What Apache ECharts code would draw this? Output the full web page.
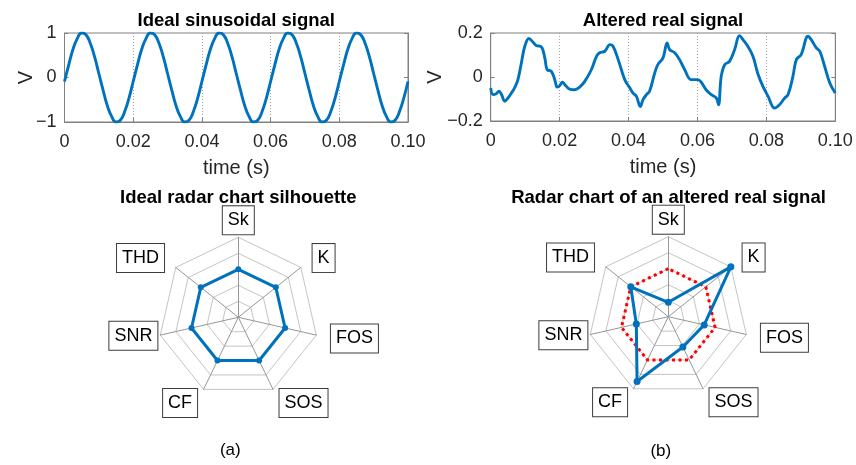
<!DOCTYPE html>
<html>
<head>
<meta charset="utf-8">
<title>Sinusoidal and altered signals with radar silhouettes</title>
<script src="https://cdn.jsdelivr.net/npm/echarts@6/dist/echarts.min.js"></script>
<style>
  html, body { margin: 0; padding: 0; background: #fff; }
  #chart { width: 856px; height: 465px; }
</style>
</head>
<body>
<div id="chart"></div>
<script>
// ---- Ideal 50 Hz sinusoid, sampled every 1.25 ms (V) ----
const sineStep = 0.00125;
const sineValues = [
  -0.09, 0.29, 0.64, 0.88, 1.00, 0.96, 0.77, 0.47, 0.09, -0.29, -0.64, -0.88, -1.00, -0.96, -0.77, -0.47,
  -0.09, 0.29, 0.64, 0.88, 1.00, 0.96, 0.77, 0.47, 0.09, -0.29, -0.64, -0.88, -1.00, -0.96, -0.77, -0.47,
  -0.09, 0.29, 0.64, 0.88, 1.00, 0.96, 0.77, 0.47, 0.09, -0.29, -0.64, -0.88, -1.00, -0.96, -0.77, -0.47,
  -0.09, 0.29, 0.64, 0.88, 1.00, 0.96, 0.77, 0.47, 0.09, -0.29, -0.64, -0.88, -1.00, -0.96, -0.77, -0.47,
  -0.09, 0.29, 0.64, 0.88, 1.00, 0.96, 0.77, 0.47, 0.09, -0.29, -0.64, -0.88, -1.00, -0.96, -0.77, -0.47,
  -0.09
];

// ---- Altered real signal: time (s) and voltage (V) ----
const realTime = [
  0, 0.0007, 0.0016, 0.0024, 0.0031, 0.0041, 0.0050, 0.0060, 0.0070, 0.0079,
  0.0089, 0.0099, 0.0111, 0.0123, 0.0132, 0.0147, 0.0157, 0.0164, 0.0176, 0.0186,
  0.0193, 0.0200, 0.0208, 0.0217, 0.0229, 0.0244, 0.0258, 0.0273, 0.0292, 0.0307,
  0.0316, 0.0331, 0.0346, 0.0355, 0.0370, 0.0389, 0.0404, 0.0413, 0.0423, 0.0434,
  0.0442, 0.0452, 0.0461, 0.0476, 0.0485, 0.0500, 0.0512, 0.0519, 0.0534, 0.0548,
  0.0563, 0.0582, 0.0601, 0.0611, 0.0625, 0.0640, 0.0655, 0.0661, 0.0669, 0.0679,
  0.0693, 0.0708, 0.0722, 0.0732, 0.0746, 0.0761, 0.0776, 0.0790, 0.0805, 0.0824,
  0.0838, 0.0853, 0.0863, 0.0877, 0.0887, 0.0901, 0.0921, 0.0930, 0.0945, 0.0955,
  0.0969, 0.0984, 0.1000
];
const realValues = [
  -0.050, -0.080, -0.076, -0.065, -0.078, -0.110, -0.096, -0.073, -0.047, -0.012,
  0.064, 0.140, 0.175, 0.158, 0.143, 0.137, 0.087, 0.033, 0.026, -0.012,
  -0.046, -0.040, -0.024, -0.038, -0.055, -0.058, -0.046, -0.020, 0.033, 0.094,
  0.110, 0.117, 0.147, 0.140, 0.079, -0.012, -0.050, -0.073, -0.088, -0.134,
  -0.103, -0.080, -0.065, 0.018, 0.056, 0.087, 0.155, 0.125, 0.110, 0.079,
  0.033, -0.012, -0.012, -0.024, -0.058, -0.080, -0.096, -0.126, 0.003, 0.056,
  0.071, 0.125, 0.188, 0.170, 0.140, 0.094, 0.011, -0.043, -0.088, -0.141,
  -0.126, -0.096, -0.080, 0.003, 0.079, 0.102, 0.185, 0.170, 0.132, 0.117,
  0.049, -0.027, -0.073
];

// ---- Axis ticks ----
const timeTicks = [0, 0.02, 0.04, 0.06, 0.08, 0.10];
const sineTicks = [-1, 0, 1];
const realTicks = [-0.2, 0, 0.2];

// ---- Radar features, listed clockwise from the top ----
const features = ['Sk', 'K', 'FOS', 'SOS', 'CF', 'SNR', 'THD'];
const idealProfile = [0.6, 0.6, 0.6, 0.6, 0.6, 0.6, 0.6];
const alteredProfile = [0.18, 1.0, 0.46, 0.42, 0.9, 0.41, 0.6];
// feature names whose boxes sit right against the outer ring
const closeNames = ['Sk', 'SNR'];

// ---------------------------------------------------------------
const BLUE = '#0072BD';
const TEXT = '#262626';
const BOX = '#808080';
const FONT = '"Liberation Sans", Arial, Helvetica, sans-serif';

const sineData = sineValues.map((v, i) => [i * sineStep, v]);
const realData = realTime.map((t, i) => [t, realValues[i]]);

// ECharts places radar indicators counter-clockwise
const ccw = arr => [arr[0]].concat(arr.slice(1).reverse());

function fmtTime(v) { return v === 0 ? '0' : v.toFixed(2); }
function fmtSigned(v) {
  if (Math.abs(v) < 1e-9) return '0';
  const s = Number.isInteger(v) ? String(Math.abs(v)) : Math.abs(v).toFixed(1);
  return (v < 0 ? '\u2212' : '') + s;
}

function xAxisFor(gridIndex) {
  return {
    type: 'value', gridIndex,
    min: timeTicks[0], max: timeTicks[timeTicks.length - 1], interval: timeTicks[1] - timeTicks[0],
    name: 'time (s)', nameLocation: 'middle', nameGap: 36, nameMoveOverlap: false,
    nameTextStyle: { fontSize: 20, color: TEXT, fontFamily: FONT },
    axisLine: { show: true, onZero: false, lineStyle: { color: BOX, width: 1 } },
    axisTick: { show: true, inside: true, length: 4, lineStyle: { color: BOX } },
    axisLabel: { margin: 11, fontSize: 18, color: TEXT, fontFamily: FONT, formatter: fmtTime, hideOverlap: false },
    splitLine: { show: true, lineStyle: { color: '#8c8c8c', width: 0.8, type: [1, 2] } }
  };
}

function yAxisFor(gridIndex, ticks, nameGap) {
  return {
    type: 'value', gridIndex,
    min: ticks[0], max: ticks[ticks.length - 1], interval: ticks[1] - ticks[0],
    name: 'V', nameLocation: 'middle', nameGap, nameMoveOverlap: false,
    nameTextStyle: { fontSize: 20, color: TEXT, fontFamily: FONT },
    axisLine: { show: true, onZero: false, lineStyle: { color: BOX, width: 1 } },
    axisTick: { show: true, inside: true, length: 4, lineStyle: { color: BOX } },
    axisLabel: { margin: 8, fontSize: 18, color: TEXT, fontFamily: FONT, formatter: fmtSigned, showMinLabel: true, showMaxLabel: true },
    splitLine: { show: false }
  };
}

function yRightFor(gridIndex, ticks) {
  return {
    type: 'value', gridIndex, position: 'right',
    min: ticks[0], max: ticks[ticks.length - 1], interval: ticks[1] - ticks[0],
    axisLine: { show: true, onZero: false, lineStyle: { color: BOX, width: 1 } },
    axisTick: { show: true, inside: true, length: 4, lineStyle: { color: BOX } },
    axisLabel: { show: false },
    splitLine: { show: false }
  };
}

const nameBox = {
  color: '#000', fontSize: 18, fontFamily: FONT,
  borderColor: '#3c3c3c', borderWidth: 1, padding: [5, 5, 5, 5], backgroundColor: '#fff'
};

function radarPair(center) {
  const names = ccw(features);
  const main = {
    center, radius: 80, startAngle: 90, shape: 'polygon', splitNumber: 5,
    indicator: names.map(n => ({ name: closeNames.includes(n) ? '' : n, min: 0, max: 1 })),
    nameGap: 15,
    axisName: nameBox,
    splitLine: { lineStyle: { color: '#c4c4c4', width: 1 } },
    splitArea: { show: false },
    axisLine: { lineStyle: { color: '#979797', width: 1 } },
    axisTick: { show: false },
    axisLabel: { show: false }
  };
  const close = {
    center, radius: 80, startAngle: 90, shape: 'polygon', splitNumber: 5,
    indicator: names.map(n => ({ name: closeNames.includes(n) ? n : '', min: 0, max: 1 })),
    nameGap: 3,
    axisName: nameBox,
    splitLine: { show: false },
    splitArea: { show: false },
    axisLine: { show: false },
    axisTick: { show: false },
    axisLabel: { show: false }
  };
  return [main, close];
}

const titleStyle = { fontSize: 18.5, fontWeight: 'bold', color: '#000', fontFamily: FONT };
const captionStyle = { fontSize: 17, fontWeight: 'normal', color: '#000', fontFamily: FONT };

const option = {
  animation: false,
  backgroundColor: '#fff',
  title: [
    { text: 'Ideal sinusoidal signal', left: 236.3, top: 11.5, textAlign: 'center', padding: 0, textStyle: titleStyle },
    { text: 'Altered real signal', left: 663, top: 11.5, textAlign: 'center', padding: 0, textStyle: titleStyle },
    { text: 'Ideal radar chart silhouette', left: 238.3, top: 188, textAlign: 'center', padding: 0, textStyle: titleStyle },
    { text: 'Radar chart of an altered real signal', left: 668.5, top: 188, textAlign: 'center', padding: 0, textStyle: titleStyle },
    { text: '(a)', left: 230.3, top: 441.5, textAlign: 'center', padding: 0, textStyle: captionStyle },
    { text: '(b)', left: 660.8, top: 443, textAlign: 'center', padding: 0, textStyle: captionStyle }
  ],
  grid: [
    { left: 64.5, top: 33, width: 343.5, height: 89, show: true, borderColor: BOX, borderWidth: 1, containLabel: false, outerBoundsMode: 'none' },
    { left: 490.7, top: 33, width: 344.6, height: 88, show: true, borderColor: BOX, borderWidth: 1, containLabel: false, outerBoundsMode: 'none' }
  ],
  xAxis: [xAxisFor(0), xAxisFor(1)],
  yAxis: [yAxisFor(0, sineTicks, 28), yRightFor(0, sineTicks), yAxisFor(1, realTicks, 45), yRightFor(1, realTicks)],
  radar: radarPair([238.3, 317.3]).concat(radarPair([668.3, 316.7])),
  series: [
    {
      name: 'Ideal sinusoidal signal', type: 'line', xAxisIndex: 0, yAxisIndex: 0,
      data: sineData, smooth: true, showSymbol: false,
      lineStyle: { color: BLUE, width: 2.9 }
    },
    {
      name: 'Altered real signal', type: 'line', xAxisIndex: 1, yAxisIndex: 2,
      data: realData, smooth: 0.4, showSymbol: false,
      lineStyle: { color: BLUE, width: 2.9 }
    },
    {
      name: 'Ideal silhouette', type: 'radar', radarIndex: 0,
      symbol: 'circle', symbolSize: 6,
      itemStyle: { color: BLUE },
      lineStyle: { color: BLUE, width: 3 },
      data: [{ value: ccw(idealProfile) }]
    },
    {
      name: 'Ideal reference', type: 'radar', radarIndex: 2,
      symbol: 'none',
      lineStyle: { color: '#ff0000', width: 3, type: [3, 3.5] },
      data: [{ value: ccw(idealProfile) }]
    },
    {
      name: 'Altered signal', type: 'radar', radarIndex: 2,
      symbol: 'circle', symbolSize: 7,
      itemStyle: { color: BLUE },
      lineStyle: { color: BLUE, width: 3 },
      data: [{ value: ccw(alteredProfile) }]
    }
  ]
};

const chart = echarts.init(document.getElementById('chart'), null, { renderer: 'canvas' });
chart.setOption(option);
</script>
</body>
</html>
